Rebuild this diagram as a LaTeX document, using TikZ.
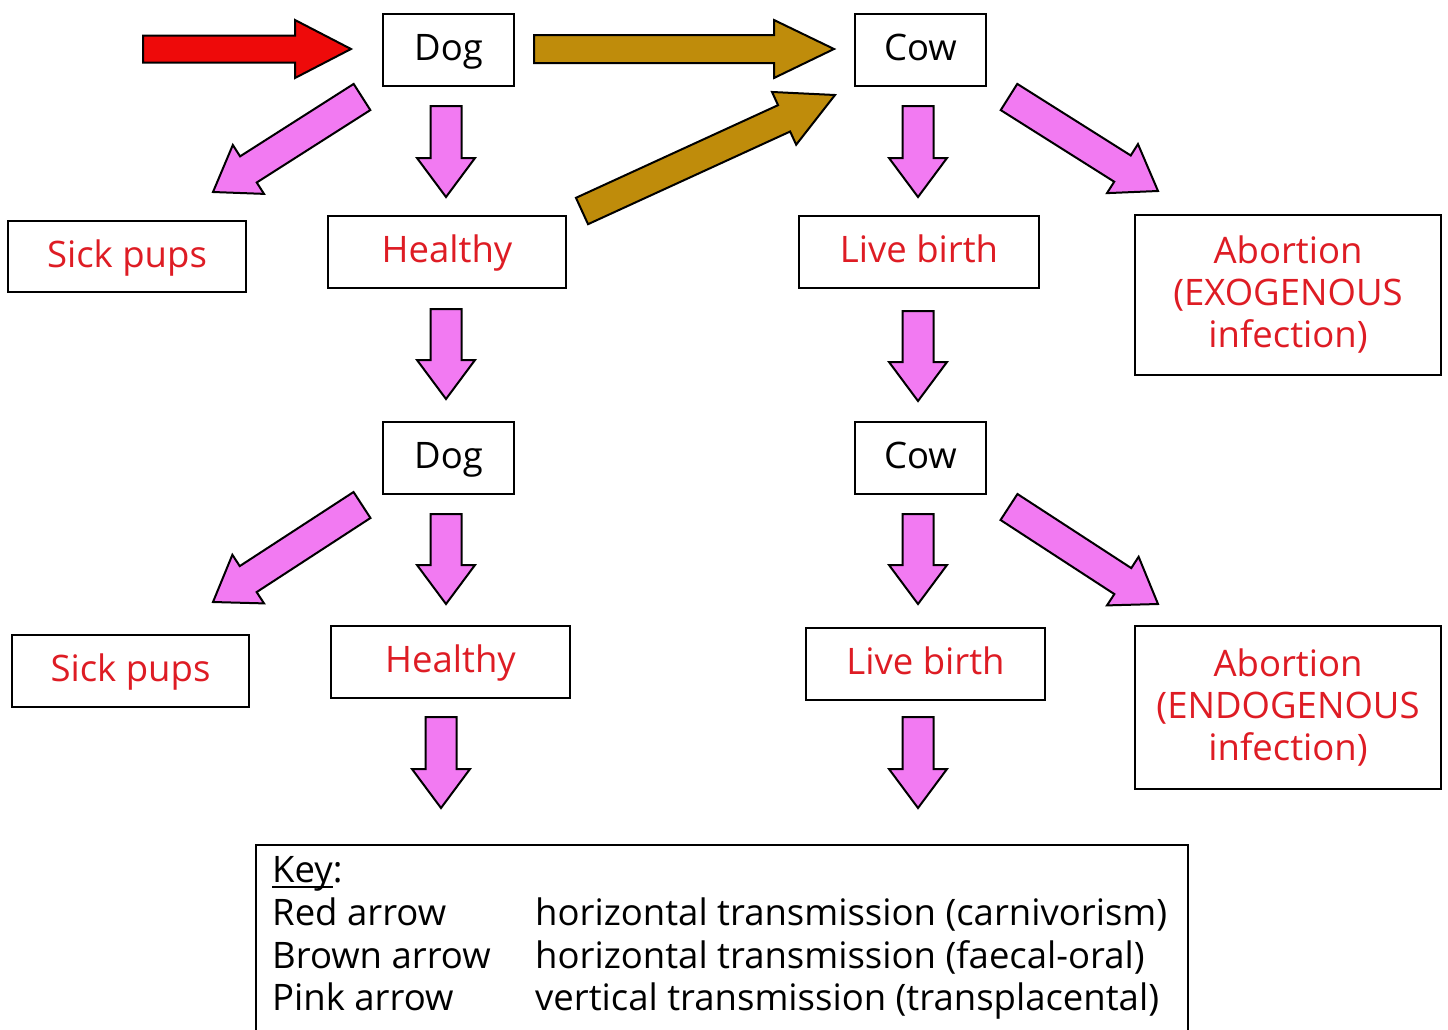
\documentclass[tikz,border=0pt]{standalone}
\usepackage{fontspec}
\setmainfont{Open Sans}
\usetikzlibrary{calc}
\definecolor{txtred}{RGB}{222,28,36}
\definecolor{pinkfill}{RGB}{242,122,242}
\definecolor{brownfill}{RGB}{191,140,11}
\definecolor{redfill}{RGB}{238,10,10}
\newcommand\blockarrow[5]{% #1 fill, #2 tail, #3 tip, #4 head length, #5 shaft half width
  \coordinate (hb) at ($(#3)!#4!(#2)$);
  \draw[arrowline, fill=#1] ($(#2)!#5!90:(#3)$) -- ($(hb)!#5!90:(#3)$) -- ($(hb)!29pt!90:(#3)$) -- (#3)
    -- ($(hb)!29pt!-90:(#3)$) -- ($(hb)!#5!-90:(#3)$) -- ($(#2)!#5!-90:(#3)$) -- cycle;}
\begin{document}
\begin{tikzpicture}[x=1pt,y=-1pt,
  box/.style={draw, line width=2.4pt, inner sep=0pt, font=\fontsize{36.5}{42}\selectfont},
  single/.style={box, text height=27pt, text depth=6pt},
  redtxt/.style={text=txtred},
  arrowline/.style={draw=black, line width=2pt, line join=miter},
  keytxt/.style={anchor=base west, inner sep=0pt, font=\fontsize{36.5}{42}\selectfont}]
\useasboundingbox[fill=white] (0,0) rectangle (1448,1029);

% boxes
\node[single, minimum width=131pt, minimum height=72pt] (dog1) at (448.5,50) {Dog};
\node[single, minimum width=131pt, minimum height=72pt] (cow1) at (920.5,50) {Cow};
\node[single, redtxt, minimum width=238pt, minimum height=71pt] (sick1) at (127,256.5) {Sick pups};
\node[single, redtxt, minimum width=238pt, minimum height=72pt] (healthy1) at (447,252) {Healthy};
\node[single, redtxt, minimum width=240pt, minimum height=72pt] (live1) at (919,252) {Live birth};
\node[box, redtxt, align=center, minimum width=306pt, minimum height=160pt] (abort1) at (1288,295) {Abortion\\(EXOGENOUS\\infection)};

\node[single, minimum width=131pt, minimum height=72pt] (dog2) at (448.5,458) {Dog};
\node[single, minimum width=131pt, minimum height=72pt] (cow2) at (920.5,458) {Cow};
\node[single, redtxt, minimum width=237pt, minimum height=72pt] (sick2) at (130.5,671) {Sick pups};
\node[single, redtxt, minimum width=239pt, minimum height=72pt] (healthy2) at (450.5,662) {Healthy};
\node[single, redtxt, minimum width=239pt, minimum height=72pt] (live2) at (925.5,664) {Live birth};
\node[box, redtxt, align=center, minimum width=306pt, minimum height=163pt] (abort2) at (1288,707.5) {Abortion\\(ENDOGENOUS\\infection)};

% key box
\draw[line width=2.4pt] (256,1040) -- (256,845) -- (1188,845) -- (1188,1040);
\node[keytxt] (keytitle) at (272,882) {\sbox0{Key}\rlap{\rule[-6pt]{\wd0}{2pt}}Key:};
\node[keytxt] (k1a) at (272,925) {Red arrow};
\node[keytxt] (k2a) at (272,968) {Brown arrow};
\node[keytxt] (k3a) at (272,1010) {Pink arrow};
\node[keytxt] (k1b) at (535,925) {horizontal transmission (carnivorism)};
\node[keytxt] (k2b) at (535,968) {horizontal transmission (faecal-oral)};
\node[keytxt] (k3b) at (535,1010) {vertical transmission (transplacental)};

% arrow coordinates
\coordinate (redT) at (143,49);   \coordinate (redH) at (351,49);
\coordinate (brT) at (534,49);    \coordinate (brH) at (834,49);
\coordinate (bdT) at (582,211);   \coordinate (bdH) at (835,95);
\coordinate (p1T) at (446,106);   \coordinate (p1H) at (446,197);
\coordinate (p2T) at (918,106);   \coordinate (p2H) at (918,197);
\coordinate (p3T) at (446,309);   \coordinate (p3H) at (446,399);
\coordinate (p4T) at (918,311);   \coordinate (p4H) at (918,401);
\coordinate (p5T) at (446,514);   \coordinate (p5H) at (446,604);
\coordinate (p6T) at (918,514);   \coordinate (p6H) at (918,604);
\coordinate (p7T) at (441,717);   \coordinate (p7H) at (441,808);
\coordinate (p8T) at (918,717);   \coordinate (p8H) at (918,808);
\coordinate (d1T) at (362,97);    \coordinate (d1H) at (213,192);
\coordinate (d2T) at (362,505);   \coordinate (d2H) at (213,602);
\coordinate (d3T) at (1009,97);   \coordinate (d3H) at (1158,191);
\coordinate (d4T) at (1009,507);  \coordinate (d4H) at (1158,604);

\blockarrow{redfill}{redT}{redH}{56pt}{13.5pt}
\blockarrow{brownfill}{brT}{brH}{60pt}{14pt}
\blockarrow{brownfill}{bdT}{bdH}{56pt}{14.5pt}
\blockarrow{pinkfill}{p1T}{p1H}{39pt}{15.5pt}
\blockarrow{pinkfill}{p2T}{p2H}{39pt}{15.5pt}
\blockarrow{pinkfill}{p3T}{p3H}{39pt}{15.5pt}
\blockarrow{pinkfill}{p4T}{p4H}{39pt}{15.5pt}
\blockarrow{pinkfill}{p5T}{p5H}{39pt}{15.5pt}
\blockarrow{pinkfill}{p6T}{p6H}{39pt}{15.5pt}
\blockarrow{pinkfill}{p7T}{p7H}{39pt}{15.5pt}
\blockarrow{pinkfill}{p8T}{p8H}{39pt}{15.5pt}
\blockarrow{pinkfill}{d1T}{d1H}{42pt}{15.5pt}
\blockarrow{pinkfill}{d2T}{d2H}{42pt}{15.5pt}
\blockarrow{pinkfill}{d3T}{d3H}{42pt}{15.5pt}
\blockarrow{pinkfill}{d4T}{d4H}{42pt}{15.5pt}
\end{tikzpicture}
\end{document}
